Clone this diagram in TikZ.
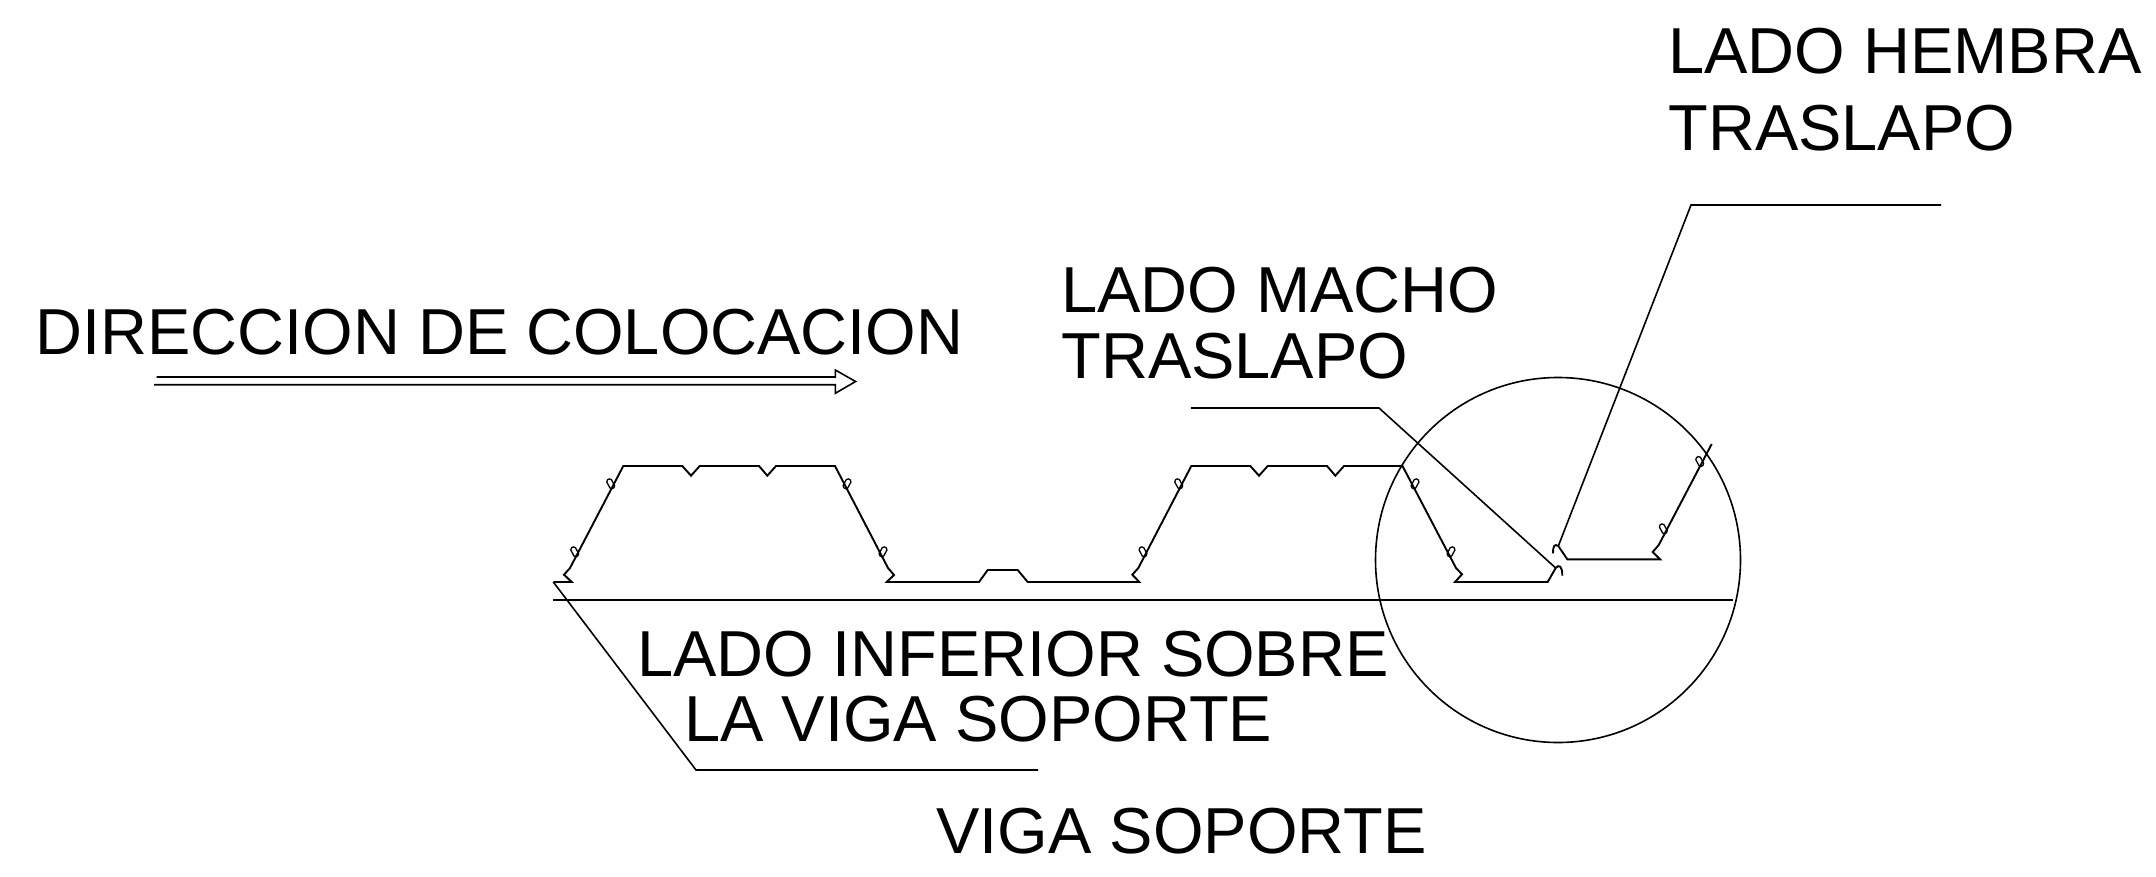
\documentclass[tikz,border=0pt]{standalone}
\usepackage{fontspec}
\setmainfont{Liberation Sans}
\usetikzlibrary{positioning,calc,shapes.geometric}
\tikzset{
	perfil/.style={line width=0.95pt, line join=miter},
	guia/.style={line width=0.8pt},
	rotulo/.style={anchor=base west, inner sep=0pt, font=\fontsize{32.5}{36}\selectfont},
	resalte/.style={draw, rectangle, rounded corners=0.8pt, line width=0.65pt, inner sep=0pt, minimum width=5pt, minimum height=2.6pt}
}
\begin{document}
\begin{tikzpicture}[x=0.5pt, y=-0.5pt]
	\useasboundingbox (0,0) rectangle (2156,877);
	% textos
	\node [rotulo] (hembra) at (1668,74) {LADO HEMBRA};
	\node [rotulo] (traslapoh) at (1668,151) {TRASLAPO};
	\node [rotulo] (macho) at (1061,312) {LADO MACHO};
	\node [rotulo] (traslapom) at (1061,378) {TRASLAPO};
	\node [rotulo] (direccion) at (35,354) {DIRECCION DE COLOCACION};
	\node [rotulo] (inferior) at (637,676) {LADO INFERIOR SOBRE};
	\node [rotulo] (laviga) at (684,741) {LA VIGA SOPORTE};
	\node [rotulo] (viga) at (936,853) {VIGA SOPORTE};
	% puntos de las guias
	\coordinate (vigaini) at (553.3,582);
	\coordinate (vigacodo) at (696,770);
	\coordinate (vigafin) at (1038,770);
	\coordinate (machoini) at (1191,408);
	\coordinate (machocodo) at (1379,408);
	\coordinate (machofin) at (1555.7,568);
	\coordinate (hembraini) at (1941,205);
	\coordinate (hembracodo) at (1691,205);
	\coordinate (hembrafin) at (1558.3,546);
	% viga soporte
	\coordinate (baseizq) at (553,599.7);
	\coordinate (baseder) at (1733,599.7);
	\draw [line width=1.1pt] (baseizq) -- (baseder);
	% panel inferior
	\draw [perfil] (vigaini) -- (571.7,582) -- (564,574.7) -- (570,568) -- (623.3,466) -- (682.3,466) -- (691,475.7) -- (699.7,466)
		-- (759,466) -- (767.3,475.7) -- (776,466) -- (835,466) -- (888,568) -- (894,575) -- (886.7,582)
		-- (979,582) -- (987.7,570) -- (1017.7,570) -- (1027.7,582) -- (1139.3,582) -- (1132.3,574.7) -- (1138.3,568)
		-- (1191.3,466) -- (1250.3,466) -- (1259,475.7) -- (1267.7,466) -- (1327,466) -- (1335.3,475.7)
		-- (1344,466) -- (1402.5,466) -- (1456,568) -- (1462,574.3) -- (1455,582) -- (1547.7,582) -- (machofin)
		.. controls (1559,564) and (1562.3,566) .. (1562.3,575.7);
	% panel superior
	\draw [perfil] (1553,553.3) .. controls (1553,546) and (1554.5,543.5) .. (hembrafin)
		-- (1567.3,559.3) -- (1660,559.3) -- (1652.7,552) -- (1658.7,545) -- (1711.7,444);
	% resaltes del perfil
	\foreach \px/\py/\ang in {610.7/483.8/-62, 574.7/551.8/-62, 847/483.8/62, 883/551.8/62,
		1143/551.8/-62, 1178.7/483.8/-62, 1415/483.8/62, 1451/551.8/62, 1663.3/528.8/-62, 1699.7/461.5/-62}
		\node [resalte, rotate=\ang] at (\px,\py) {};
	% detalle
	\coordinate (centro) at (1558,560);
	\draw [guia] (centro) circle [radius=182.5];
	% guias
	\draw [guia] (vigaini) -- (vigacodo) -- (vigafin);
	\draw [guia] (machoini) -- (machocodo) -- (machofin);
	\draw [guia] (hembraini) -- (hembracodo) -- (hembrafin);
	% flecha
	\coordinate (flechaa) at (156.7,377);
	\coordinate (flechab) at (154,384.7);
	\draw [guia] (flechaa) -- (835.3,377) -- (835.3,370) -- (855.6,381.5) -- (835.3,393.3) -- (835.3,384.7) -- (flechab);
\end{tikzpicture}
\end{document}
